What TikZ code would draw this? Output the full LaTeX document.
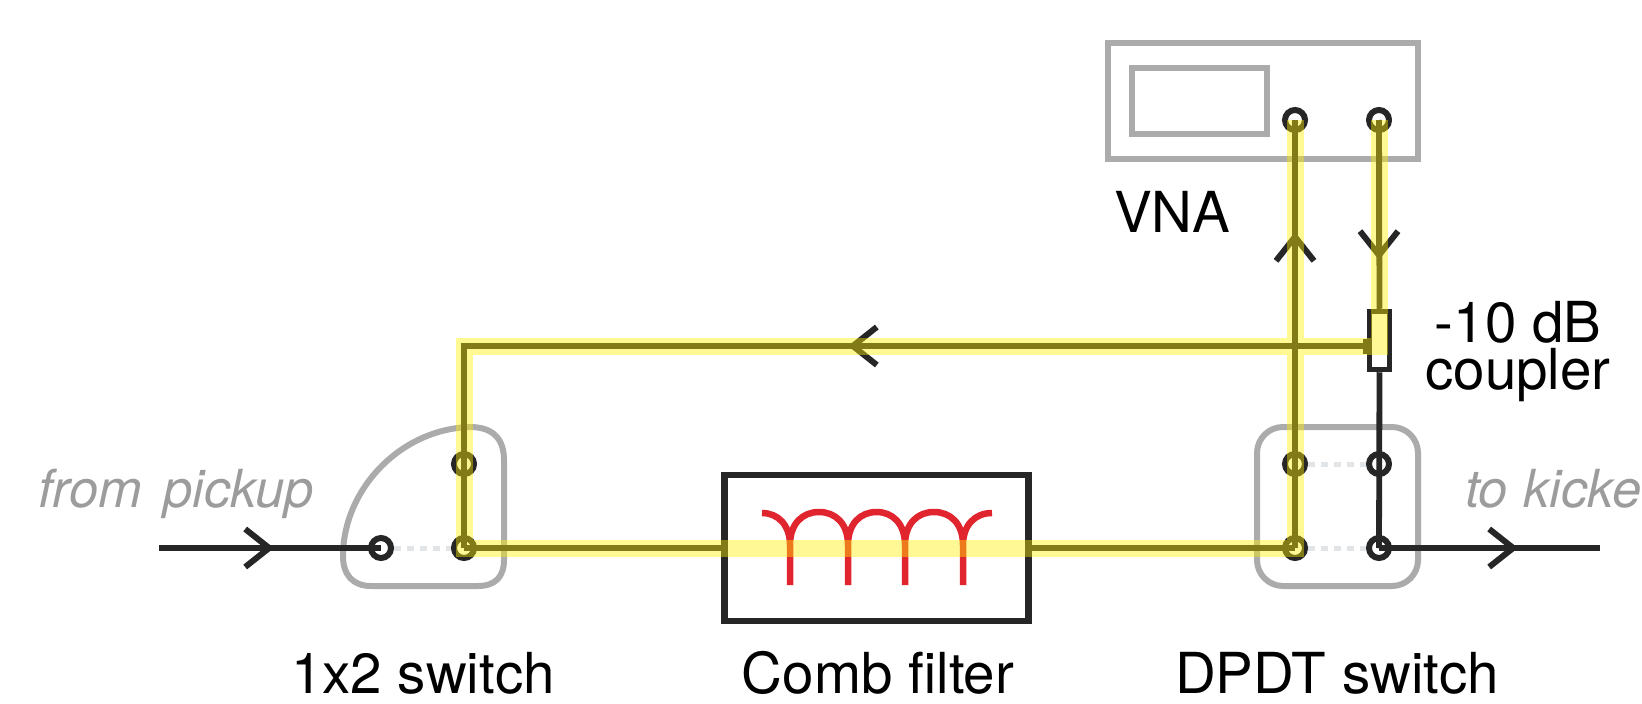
\documentclass[tikz,border=0pt]{standalone}
\usepackage{fontspec}
\setmainfont{TeX Gyre Heros}
\usetikzlibrary{arrows.meta}
\definecolor{ink}{HTML}{262626}
\definecolor{frame}{HTML}{ABABAB}
\definecolor{hilite}{HTML}{FFF000}
\definecolor{combred}{HTML}{E0252F}
\definecolor{faint}{HTML}{E2E5E8}
\definecolor{soft}{HTML}{9C9C9C}
\tikzset{
  x=1pt,y=-1pt,
  port/.style={circle,draw=ink,line width=6pt,fill=white,minimum size=20pt,inner sep=0pt},
  frameline/.style={draw=frame,line width=6pt},
  wire/.style={draw=ink,line width=5.8pt},
  barb/.style={wire,-{Straight Barb[length=24pt,width=38pt,line width=6pt]}},
  link/.style={draw=faint,line width=5pt,dash pattern=on 7pt off 6pt},
  path band/.style={draw=hilite,line width=17pt,opacity=.42},
  label/.style={inner sep=0pt,anchor=base,text=black,font=\fontsize{56.5}{47}\selectfont},
  note/.style={inner sep=0pt,anchor=base west,text=soft,font=\fontsize{52.5}{52}\selectfont\itshape}
}
\begin{document}
\begin{tikzpicture}
\useasboundingbox (0,0) rectangle (1642,704);
\clip (0,0) rectangle (1642,704);
% instrument and switch outlines
\node[frameline,rectangle,minimum width=310pt,minimum height=116pt,inner sep=0pt] (vna) at (1263,101) {};
\node[frameline,rectangle,minimum width=135pt,minimum height=66pt,inner sep=0pt] (screen) at (1199.5,101) {};
\node[frameline,rectangle,rounded corners=26pt,minimum width=161pt,minimum height=159pt,inner sep=0pt] (dpdt) at (1337.5,506.5) {};
\draw[frameline,rounded corners=0pt] (343,556) .. controls (343,490) and (400,429) .. (470,427)
  .. controls (492,427) and (504,438) .. (504,460) -- (504,560)
  .. controls (504,577) and (495,586) .. (478,586) -- (371,586)
  .. controls (353,586) and (343,575) .. (343,556) -- cycle;
% switch internals
\coordinate (in) at (159,548);
\coordinate (intip) at (274,548);
\coordinate (outtip) at (1518,548);
\coordinate (out) at (1600,548);
\coordinate (uptip) at (1295,232);
\coordinate (downtip) at (1379,260);
\coordinate (lefttip) at (848,346);
\coordinate (corner) at (464,346);
\coordinate (entry) at (1372,346);
\coordinate (tapin) at (1379,346);
\node[port] (sa) at (381,548) {};
\node[port] (sb) at (464,548) {};
\node[port] (sc) at (464,464) {};
\node[port] (da) at (1295,464) {};
\node[port] (db) at (1379,464) {};
\node[port] (dc) at (1295,548) {};
\node[port] (dd) at (1379,548) {};
\node[port] (va) at (1295,120) {};
\node[port] (vb) at (1379,120) {};
\draw[link] (sa) -- (sb);
\draw[link] (da) -- (db);
\draw[link] (dc) -- (dd);
% comb filter
\node[draw=ink,line width=6.5pt,fill=white,rectangle,minimum width=304pt,minimum height=146pt,inner sep=0pt] (comb) at (876.5,548) {};
\draw[draw=combred,line width=6.5pt]
  (762,513) .. controls (778,513) and (790,525) .. (790,545) -- (790,585)
  (790,545) .. controls (790,523) and (803,512) .. (819,512) .. controls (835,512) and (848,523) .. (848,545) -- (848,585)
  (848,545) .. controls (848,523) and (861,512) .. (876.5,512) .. controls (892,512) and (905,523) .. (905,545) -- (905,585)
  (905,545) .. controls (905,523) and (918,512) .. (934,512) .. controls (950,512) and (963,523) .. (963,545) -- (963,585)
  (963,545) .. controls (963,525) and (975,513) .. (992,513);
% coupler
\node[draw=ink,line width=5.5pt,fill=white,rectangle,minimum width=20pt,minimum height=58pt,inner sep=0pt] (coupler) at (1379.5,340.5) {};
\node[fill=ink,rectangle,minimum width=9pt,minimum height=15pt,inner sep=0pt] (tab) at (1367,346) {};
% wires
\draw[wire] (in) -- (sa.center);
\draw[barb] (in) -- (intip);
\draw[wire] (sb.center) -- (comb.west);
\draw[wire] (comb.east) -- (dc.center);
\draw[wire] (sc.center) -- (sb.center);
\draw[wire] (dc.center) -- (va.center);
\draw[barb] (da.center) -- (uptip);
\draw[wire] (vb.center) -- (coupler.north);
\draw[barb] (vb.center) -- (downtip);
\draw[wire] (coupler.south) -- (dd.center);
\draw[wire] (dd.center) -- (out);
\draw[barb] (dd.center) -- (outtip);
\draw[wire] (entry) -- (corner);
\draw[barb] (entry) -- (lefttip);
\draw[wire,line cap=rect] (corner) -- (sc.center);
% highlighted measurement path
\draw[path band] (va.center) -- (dc.center) -- (sb.center) -- (corner) -- (tapin) -- (vb.center);
% labels
\node[label] (lvna) at (1172,232) {VNA};
\node[label,align=center] (lcoupler) at (1518,389) {-10 dB\\coupler};
\node[label] (lsw) at (423,693) {1x2 switch};
\node[label] (lcomb) at (878,693) {Comb filter};
\node[label] (ldpdt) at (1337,693) {DPDT switch};
\node[note] (lfrom) at (38,507) {from\hspace{.4em}pickup};
\node[note] (lto) at (1465,507) {to\hspace{.3em}kicker};
\end{tikzpicture}
\end{document}
